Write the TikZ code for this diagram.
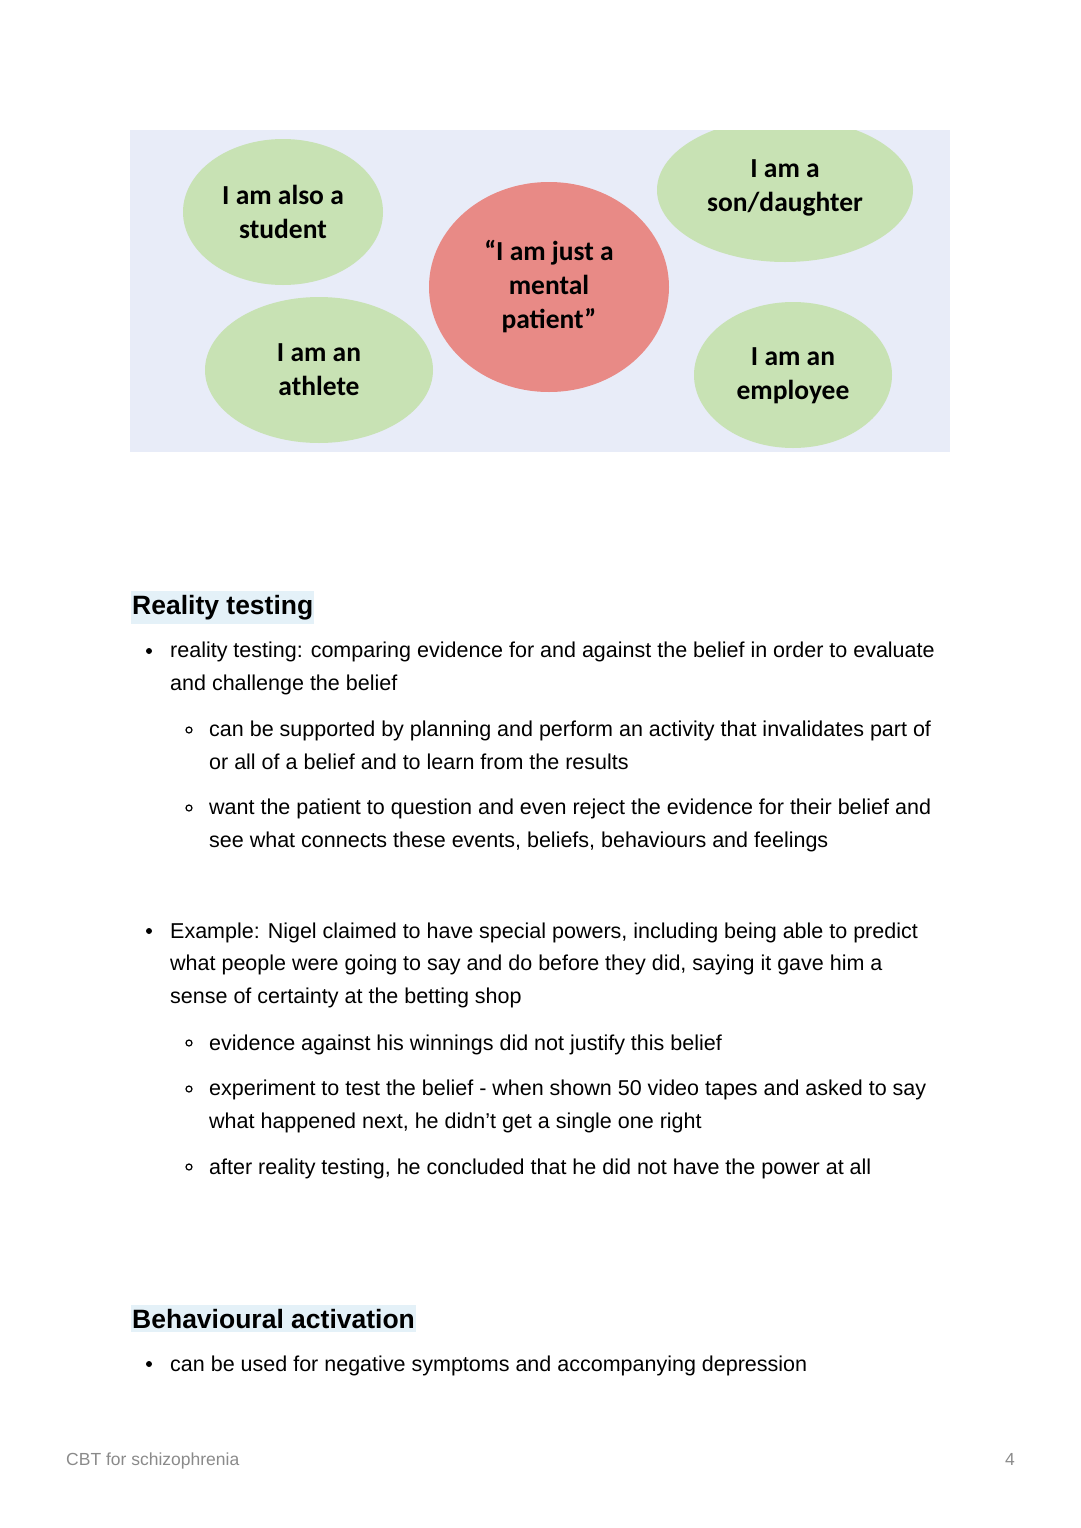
\documentclass[tikz,border=0pt]{standalone}
\usepackage{fontspec}
\setmainfont{Liberation Sans}
\newfontfamily\calib{Carlito}
\definecolor{panel}{HTML}{E8ECF8}
\definecolor{gr}{HTML}{C8E2B4}
\definecolor{rd}{HTML}{E88A86}
\definecolor{hl}{HTML}{E4F1F8}
\definecolor{ft}{HTML}{8A8A8A}
\tikzset{
 bub/.style={align=center, font=\calib\bfseries\fontsize{27.5}{34}\selectfont, inner sep=0pt},
 body/.style={anchor=base west, font=\fontsize{21.5}{32.5}\selectfont, inner sep=0pt, align=left},
 head/.style={anchor=base west, font=\bfseries\fontsize{26.5}{30}\selectfont, fill=hl, inner xsep=1pt, inner ysep=4pt},
 dot/.style={circle, fill=black, inner sep=0pt, minimum size=6pt},
 ring/.style={circle, draw=black, line width=1.2pt, inner sep=0pt, minimum size=6pt},
 foot/.style={anchor=base west, font=\fontsize{17.5}{20}\selectfont, text=ft, inner sep=0pt}
}
\begin{document}
\begin{tikzpicture}[x=1pt,y=-1pt]
\useasboundingbox (0,0) rectangle (1080,1528);
\fill[panel] (130,130) rectangle (950,452);
\begin{scope}
\clip (130,130) rectangle (950,452);
\fill[gr] (283,212) ellipse [x radius=100, y radius=73];
\fill[gr] (319,370) ellipse [x radius=114, y radius=73];
\fill[rd] (549,287) ellipse [x radius=120, y radius=105];
\fill[gr] (785,190) ellipse [x radius=128, y radius=72];
\fill[gr] (793,375) ellipse [x radius=99, y radius=73];
\end{scope}
\node[bub] (st) at (283,212) {I am also a\\student};
\node[bub] (at) at (319,370) {I am an\\athlete};
\node[bub] (mp) at (549,287) {“I am just a\\mental\\patient”};
\node[bub] (sd) at (785,188) {I am a\\son/daughter};
\node[bub] (em) at (793,376) {I am an\\employee};

\node[head] (h1) at (131,614) {Reality testing};
\node[dot] (b1) at (149,651) {};
\node[body] (t1) at (170,690) {reality testing: comparing evidence for and against the belief in order to evaluate\\and challenge the belief};
\node[ring] (r1) at (189,730) {};
\node[body] (t2) at (209,769) {can be supported by planning and perform an activity that invalidates part of\\or all of a belief and to learn from the results};
\node[ring] (r2) at (189,808) {};
\node[body] (t3) at (209,847) {want the patient to question and even reject the evidence for their belief and\\see what connects these events, beliefs, behaviours and feelings};
\node[dot] (b2) at (149,931) {};
\node[body] (t4) at (170,1003) {Example: Nigel claimed to have special powers, including being able to predict\\what people were going to say and do before they did, saying it gave him a\\sense of certainty at the betting shop};
\node[ring] (r3) at (189,1043) {};
\node[body] (t5) at (209,1050) {evidence against his winnings did not justify this belief};
\node[ring] (r4) at (189,1089) {};
\node[body] (t6) at (209,1128) {experiment to test the belief - when shown 50 video tapes and asked to say\\what happened next, he didn’t get a single one right};
\node[ring] (r5) at (189,1167) {};
\node[body] (t7) at (209,1174) {after reality testing, he concluded that he did not have the power at all};

\node[head] (h2) at (131,1328) {Behavioural activation};
\node[dot] (b3) at (149,1364) {};
\node[body] (t8) at (170,1371) {can be used for negative symptoms and accompanying depression};

\node[foot] (f1) at (66,1465) {CBT for schizophrenia};
\node[foot] (f2) at (1005,1465) {4};
\end{tikzpicture}
\end{document}
